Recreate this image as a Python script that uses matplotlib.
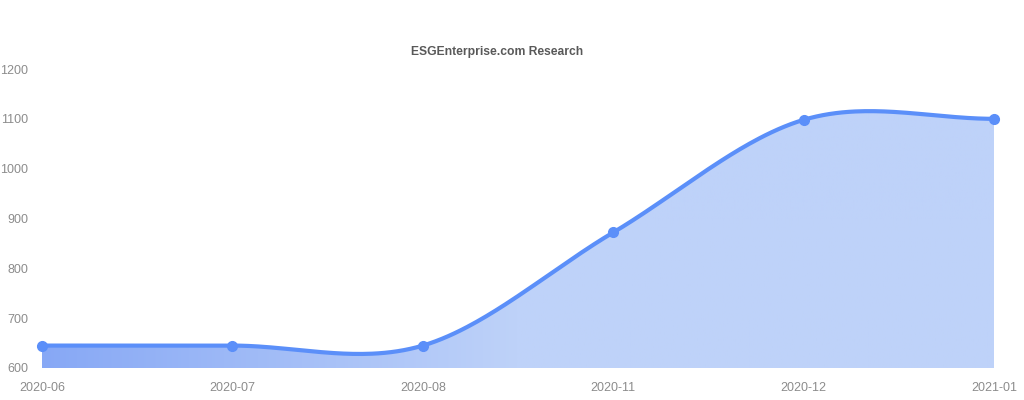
import numpy as np
import matplotlib
matplotlib.use("Agg")
import matplotlib.pyplot as plt
from matplotlib.colors import LinearSegmentedColormap

categories = ["2020-06", "2020-07", "2020-08", "2020-11", "2020-12", "2021-01"]
values = [645, 645, 645, 872, 1098, 1100]
title = "ESGEnterprise.com Research"
yticks = [600, 700, 800, 900, 1000, 1100, 1200]

plt.rcParams['font.family'] = ['Liberation Sans', 'DejaVu Sans']

def catmull(xs, ys, n=60):
    xs = np.asarray(xs, float); ys = np.asarray(ys, float)
    outx, outy = [], []
    N = len(xs)
    for i in range(N - 1):
        m0 = (ys[i + 1] - ys[i - 1]) / 2 if i > 0 else 0.0
        m1 = (ys[i + 2] - ys[i]) / 2 if i + 2 < N else 0.0
        t = np.linspace(0, 1, n, endpoint=(i == N - 2))
        h00 = 2 * t**3 - 3 * t**2 + 1
        h10 = t**3 - 2 * t**2 + t
        h01 = -2 * t**3 + 3 * t**2
        h11 = t**3 - t**2
        outx.append(xs[i] + t * (xs[i + 1] - xs[i]))
        outy.append(h00 * ys[i] + h10 * m0 + h01 * ys[i + 1] + h11 * m1)
    return np.concatenate(outx), np.concatenate(outy)

fig = plt.figure(figsize=(10.24, 4.0), dpi=100)
ax = fig.add_axes([42 / 1024, 1 - 368 / 400, (994 - 42) / 1024, (368 - 69) / 400])

x = np.arange(len(categories))
sx, sy = catmull(x, values)

ax.set_xlim(0, len(categories) - 1)
ax.set_ylim(600, 1200)

poly = ax.fill_between(sx, sy, 600, color='none', lw=0)
cmap = LinearSegmentedColormap.from_list('g', ['#87a8f5', '#bed2f9'])
grad = np.clip(np.linspace(0, 1, 512) / 0.5, 0, 1)[None, :]
im = ax.imshow(grad, cmap=cmap, aspect='auto', extent=[0, len(categories) - 1, 600, 1200],
               origin='lower', zorder=1)
path = poly.get_paths()[0]
im.set_clip_path(path, transform=ax.transData)

ax.plot(sx, sy, color='#5b8ff9', lw=3, zorder=3, solid_capstyle='round')
ax.plot(x, values, 'o', color='#5b8ff9', ms=7, zorder=4, clip_on=False)

for s in ax.spines.values():
    s.set_visible(False)
ax.set_xticks(x)
ax.set_xticklabels(categories)
ax.set_yticks(yticks)
ax.tick_params(length=0, colors='#8c8c8c', labelsize=9)
ax.tick_params(axis='x', pad=10)
ax.tick_params(axis='y', pad=10)

fig.text(497 / 1024, 1 - 52.5 / 400, title, ha='center', va='center', fontsize=8.7,
         fontweight='bold', color='#595959')

fig.savefig('out.png', dpi=100)
